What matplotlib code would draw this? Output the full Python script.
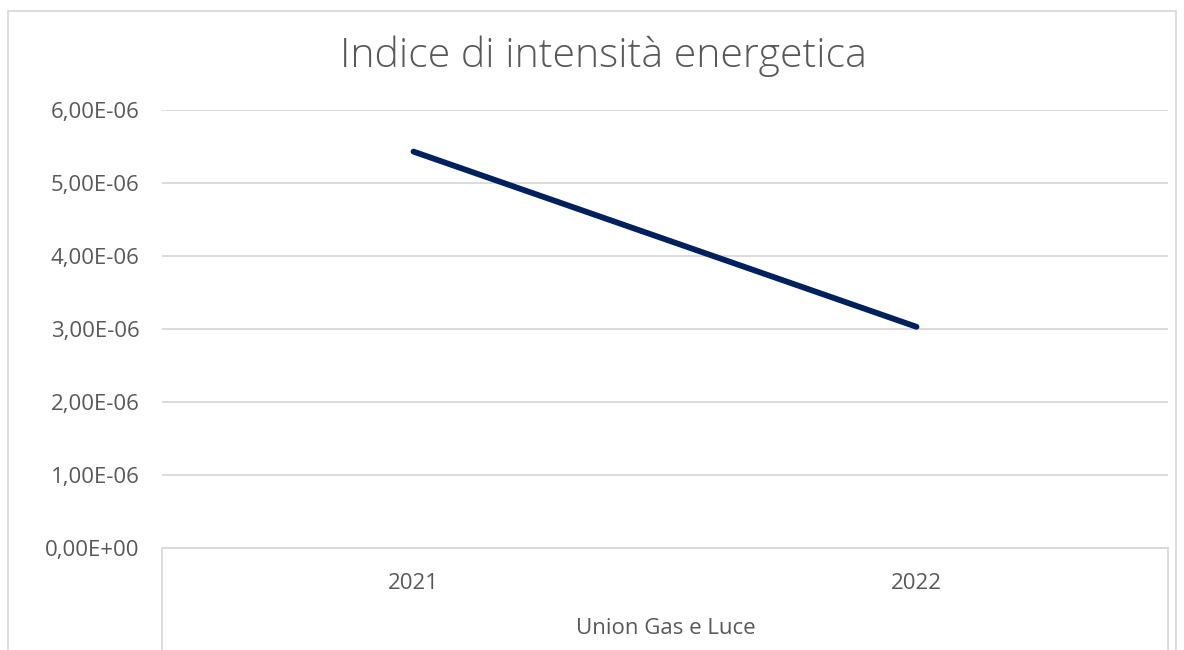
import matplotlib
matplotlib.use("Agg")
import matplotlib.pyplot as plt
from matplotlib.lines import Line2D
from matplotlib.ticker import FuncFormatter

categories = ["2021", "2022"]
values = [5.43e-06, 3.03e-06]
yticks = [0, 1e-06, 2e-06, 3e-06, 4e-06, 5e-06, 6e-06]
title = "Indice di intensità energetica"
group_label = "Union Gas e Luce"

plt.rcParams['font.family'] = ['Open Sans', 'DejaVu Sans']
TXT = '#595959'
GRID = '#d9d9d9'

W, H = 1184, 650
fig = plt.figure(figsize=(W/100, H/100), dpi=100)
L, R, T, B = 162, 1168, 110, 548
ax = fig.add_axes([L/W, 1-B/H, (R-L)/W, (B-T)/H])

x = list(range(len(categories)))
ax.plot(x, values, color='#002060', linewidth=4.2, solid_capstyle='round', zorder=3)
ax.set_xlim(-0.5, len(categories)-0.5)
ax.set_ylim(0, 6e-06)
ax.set_yticks(yticks)

def fmt(v, pos):
    s = "%.2E" % v
    return s.replace('.', ',')
ax.yaxis.set_major_formatter(FuncFormatter(fmt))
ax.tick_params(axis='y', length=0, pad=16, labelsize=16, labelcolor=TXT)
ax.set_xticks(x)
ax.set_xticklabels(categories)
ax.tick_params(axis='x', length=0, pad=18, labelsize=16, labelcolor=TXT)
ax.grid(axis='y', color=GRID, linewidth=1.3)
ax.set_axisbelow(True)
for s in ['top', 'right', 'left']:
    ax.spines[s].set_visible(False)
ax.spines['bottom'].set_color(GRID)
ax.spines['bottom'].set_linewidth(1.3)

# category group box lines
for px in (L, R):
    fig.add_artist(Line2D([px/W, px/W], [1-B/H, 0], color=GRID, linewidth=1.3))

fig.text(666/W, 1-628/H, group_label, ha='center', va='center', fontsize=16, color=TXT)
fig.text(603/W, 1-56/H, title, ha='center', va='center', fontsize=29.5, color=TXT, fontweight='light')

# outer chart border
bl, bt, br = 8, 11, 1176
fig.add_artist(Line2D([bl/W, bl/W, br/W, br/W], [0, 1-bt/H, 1-bt/H, 0], color=GRID, linewidth=1.3))

fig.savefig("out.png", dpi=100, facecolor='white')
